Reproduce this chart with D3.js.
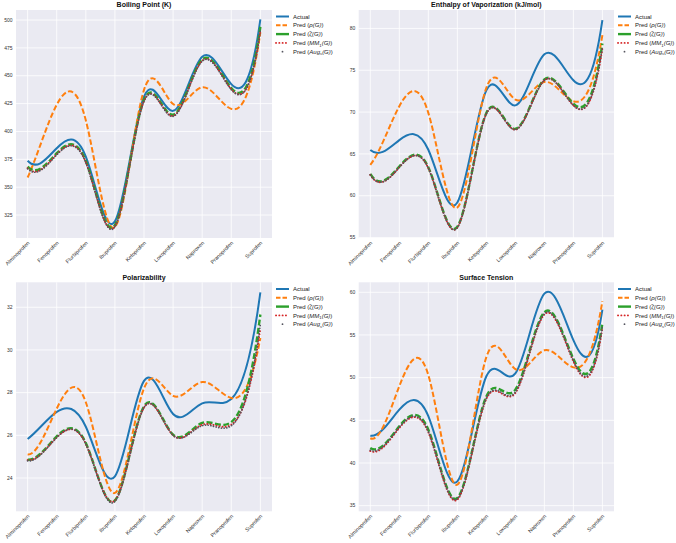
<!DOCTYPE html>
<html><head><meta charset="utf-8">
<script src="https://cdn.jsdelivr.net/npm/d3@7"></script>
<style>body{margin:0;background:#fff} text{font-family:"Liberation Sans",Arial,sans-serif}</style>
</head><body><svg id="c" width="676" height="543"></svg>
<script>
const drugs = ["Alminoprofen","Fenoprofen","Flurbiprofen","Ibuprofen","Ketoprofen","Loxoprofen","Naproxen","Pranoprofen","Suprofen"];

const bpActual = [373.7, 385, 377.5, 319.3, 431.3, 418.5, 467, 442.5, 500.6];
const bpRho    = [358.7, 424, 410, 314.2, 437.3, 424.7, 439.7, 420.3, 489];
const bpZeta   = [368.5, 380.5, 373.5, 316, 428.5, 415, 464.5, 439, 494];
const bpMM1    = [367, 379.5, 372.5, 315, 427.5, 414, 463.5, 438, 490];
const bpAug    = [366.5, 379, 372, 314.5, 427, 413.5, 463, 437.5, 491];
const bpTicks  = [325, 350, 375, 400, 425, 450, 475, 500];

const evActual = [65.46, 66.65, 65.5, 59.2, 72.6, 70.8, 76.9, 73.8, 81.0];
const evRho    = [63.7, 70.7, 69.9, 58.6, 72.9, 71.5, 73.6, 71.3, 79.2];
const evZeta   = [62.6, 63.5, 63.4, 56.3, 69.9, 68.0, 73.9, 71.0, 78.2];
const evMM1    = [62.5, 63.4, 63.3, 56.2, 69.8, 67.9, 73.8, 70.8, 77.6];
const evAug    = [62.5, 63.4, 63.3, 56.2, 69.8, 67.9, 73.8, 70.8, 77.8];
const evTicks  = [55, 60, 65, 70, 75, 80];

const polActual = [25.83, 27.1, 26.4, 24.08, 28.55, 27.0, 27.5, 27.7, 32.7];
const polRho    = [25.1, 27.25, 27.55, 23.3, 28.2, 27.85, 28.5, 27.75, 30.56];
const polZeta   = [24.86, 25.95, 25.64, 22.95, 27.36, 26.03, 26.58, 26.62, 31.66];
const polMM1    = [24.84, 25.9, 25.6, 22.95, 27.3, 26.0, 26.5, 26.5, 31.0];
const polAug    = [24.8, 25.9, 25.6, 22.9, 27.3, 26.0, 26.45, 26.45, 31.2];
const polTicks  = [24, 26, 28, 30, 32];

const stActual = [43.2, 46.25, 45.5, 37.85, 50.16, 50.5, 59.84, 54.4, 57.97];
const stRho    = [42.9, 49.0, 50.3, 37.46, 52.4, 51.0, 53.2, 51.2, 58.95];
const stZeta   = [41.76, 44.3, 43.9, 35.9, 47.8, 48.6, 57.66, 52.2, 56.4];
const stMM1    = [41.4, 44.1, 43.6, 35.7, 47.5, 48.2, 57.4, 51.9, 55.8];
const stAug    = [41.5, 44.2, 43.7, 35.8, 47.6, 48.3, 57.5, 52.0, 56.0];
const stTicks  = [35, 40, 45, 50, 55, 60];

const seriesNames = ["Actual", "rho", "zeta", "MM1", "Aug"];

const styles = [
  {color:"#1f77b4", width:2, dash:null, cap:"butt"},
  {color:"#ff7f0e", width:2, dash:"5.5,2.5", cap:"butt"},
  {color:"#2ca02c", width:2.4, dash:"6,2.5", cap:"butt"},
  {color:"#d62728", width:1.9, dash:"0.1,3", cap:"round"},
  {color:"#55555f", width:1.7, dash:"0.1,2.6", cap:"round"}
];

const panels = [
  {title:"Boiling Point (K)", series:[bpActual,bpRho,bpZeta,bpMM1,bpAug], ticks:bpTicks, domain:[304.4,509], box:[16,272,10,238], legend:[276,16.5]},
  {title:"Enthalpy of Vaporization (kJ/mol)", series:[evActual,evRho,evZeta,evMM1,evAug], ticks:evTicks, domain:[54.95,82.2], box:[358.7,614,10,238], legend:[618,16.5]},
  {title:"Polarizability", series:[polActual,polRho,polZeta,polMM1,polAug], ticks:polTicks, domain:[22.44,33.17], box:[16,272,282.3,511.3], legend:[276,289]},
  {title:"Surface Tension", series:[stActual,stRho,stZeta,stMM1,stAug], ticks:stTicks, domain:[34.34,61.17], box:[358.7,614,282.3,511.3], legend:[618,289]}
];

// not-a-knot cubic spline curve for d3.line
function curveNotAKnot(context) {
  let X = [], Y = [];
  return {
    areaStart() {}, areaEnd() {},
    lineStart() { X = []; Y = []; },
    point(x, y) { X.push(+x); Y.push(+y); },
    lineEnd() {
      const n = X.length;
      if (!n) return;
      context.moveTo(X[0], Y[0]);
      if (n < 4) { for (let i = 1; i < n; i++) context.lineTo(X[i], Y[i]); return; }
      const h = [];
      for (let i = 0; i < n - 1; i++) h.push(X[i+1] - X[i]);
      const A = Array.from({length:n}, () => new Array(n).fill(0));
      const b = new Array(n).fill(0);
      A[0][0] = -h[1]; A[0][1] = h[0] + h[1]; A[0][2] = -h[0];
      for (let i = 1; i < n - 1; i++) {
        A[i][i-1] = h[i-1]; A[i][i] = 2*(h[i-1] + h[i]); A[i][i+1] = h[i];
        b[i] = 6*((Y[i+1]-Y[i])/h[i] - (Y[i]-Y[i-1])/h[i-1]);
      }
      A[n-1][n-3] = -h[n-2]; A[n-1][n-2] = h[n-3] + h[n-2]; A[n-1][n-1] = -h[n-3];
      for (let c = 0; c < n; c++) {
        let p = c;
        for (let r = c + 1; r < n; r++) if (Math.abs(A[r][c]) > Math.abs(A[p][c])) p = r;
        [A[c], A[p]] = [A[p], A[c]]; [b[c], b[p]] = [b[p], b[c]];
        for (let r = c + 1; r < n; r++) {
          const f = A[r][c] / A[c][c];
          if (!f) continue;
          for (let k = c; k < n; k++) A[r][k] -= f * A[c][k];
          b[r] -= f * b[c];
        }
      }
      const M = new Array(n).fill(0);
      for (let r = n - 1; r >= 0; r--) {
        let s = b[r];
        for (let k = r + 1; k < n; k++) s -= A[r][k] * M[k];
        M[r] = s / A[r][r];
      }
      for (let i = 0; i < n - 1; i++) {
        const hi = h[i], sl = (Y[i+1]-Y[i])/hi;
        const d0 = sl - hi*(2*M[i] + M[i+1])/6;
        const d1 = sl + hi*(M[i] + 2*M[i+1])/6;
        context.bezierCurveTo(X[i]+hi/3, Y[i]+d0*hi/3, X[i+1]-hi/3, Y[i+1]-d1*hi/3, X[i+1], Y[i+1]);
      }
    }
  };
}

const svg = d3.select("#c");

function legendLabel(t, i) {
  t.append("tspan").text("Pred (");
  if (i === 1) { t.append("tspan").attr("font-style","italic").text("ρ(G)"); }
  if (i === 2) { t.append("tspan").attr("font-style","italic").text("ζ\u0303(G)"); }
  if (i === 3) {
    t.append("tspan").attr("font-style","italic").text("MM");
    t.append("tspan").attr("font-size","4.2px").attr("dy","1.5").text("1");
    t.append("tspan").attr("font-style","italic").attr("dy","-1.5").text("(G)");
  }
  if (i === 4) {
    t.append("tspan").attr("font-style","italic").text("Aug");
    t.append("tspan").attr("font-size","4.2px").attr("font-style","italic").attr("dy","1.5").text("s");
    t.append("tspan").attr("font-style","italic").attr("dy","-1.5").text("(G)");
  }
  t.append("tspan").text(")");
}

panels.forEach(p => {
  const [x0,x1,y0,y1] = p.box;
  const x = d3.scaleLinear().domain([-0.4, drugs.length - 1 + 0.4]).range([x0, x1]);
  const y = d3.scaleLinear().domain(p.domain).range([y1, y0]);
  const g = svg.append("g");
  g.append("rect").attr("x",x0).attr("y",y0).attr("width",x1-x0).attr("height",y1-y0).attr("fill","#eaeaf2");
  const clipId = "clip" + Math.round(x0) + "_" + Math.round(y0);
  svg.append("clipPath").attr("id",clipId).append("rect").attr("x",x0).attr("y",y0).attr("width",x1-x0).attr("height",y1-y0);

  g.selectAll(".gy").data(p.ticks).enter().append("line")
    .attr("x1",x0).attr("x2",x1).attr("y1",d=>y(d)).attr("y2",d=>y(d))
    .attr("stroke","#fff").attr("stroke-width",0.8);
  g.selectAll(".gx").data(drugs).enter().append("line")
    .attr("x1",(d,i)=>x(i)).attr("x2",(d,i)=>x(i)).attr("y1",y0).attr("y2",y1)
    .attr("stroke","#fff").attr("stroke-width",0.8);

  g.selectAll(".yt").data(p.ticks).enter().append("text")
    .attr("x",x0-3.5).attr("y",d=>y(d)).attr("dy","0.35em")
    .attr("text-anchor","end").attr("font-size","5px").attr("fill","#333").text(d=>d);

  g.selectAll(".xt").data(drugs).enter().append("text")
    .attr("transform",(d,i)=>`translate(${x(i)+1},${y1+4}) rotate(-45)`)
    .attr("text-anchor","end").attr("dy","0.35em").attr("font-size","5.4px").attr("fill","#333").text(d=>d);

  g.append("text").attr("x",(x0+x1)/2).attr("y",y0-2.6).attr("text-anchor","middle")
    .attr("font-size","7px").attr("font-weight","bold").attr("fill","#111").text(p.title);

  const line = d3.line().x((d,i)=>x(i)).y(d=>y(d)).curve(curveNotAKnot);
  const lg = g.append("g").attr("clip-path",`url(#${clipId})`);
  p.series.forEach((s, k) => {
    const st = styles[k];
    lg.append("path").attr("d", line(s)).attr("fill","none")
      .attr("stroke", st.color).attr("stroke-width", st.width)
      .attr("stroke-dasharray", st.dash).attr("stroke-linecap", st.cap);
  });

  const [lx, ly] = p.legend;
  seriesNames.forEach((n, k) => {
    const st = styles[k];
    const yy = ly + k*8.8;
    if (k < 4) {
      g.append("line").attr("x1",lx).attr("x2",lx+13).attr("y1",yy).attr("y2",yy)
        .attr("stroke",st.color).attr("stroke-width",st.width)
        .attr("stroke-dasharray", k===3 ? "0.1,3.2" : (k===1 ? "4.5,2" : null))
        .attr("stroke-linecap", st.cap);
    } else {
      g.append("circle").attr("cx",lx+6.5).attr("cy",yy).attr("r",0.9).attr("fill",st.color);
    }
    const t = g.append("text").attr("x",lx+17).attr("y",yy).attr("dy","0.35em")
      .attr("font-size","6px").attr("fill","#222");
    if (k === 0) t.text("Actual"); else legendLabel(t, k);
  });
});
</script>
</body></html>
